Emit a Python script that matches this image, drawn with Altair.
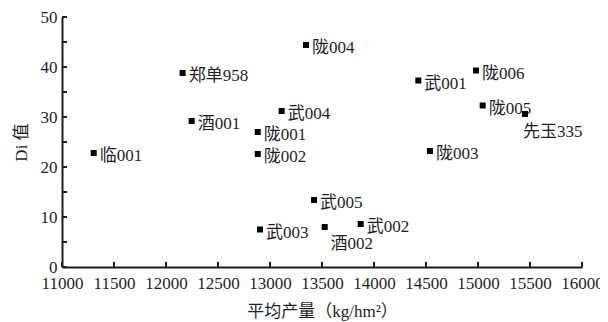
import altair as alt
import pandas as pd

names = ["临001", "郑单958", "酒001", "陇004", "武004", "陇001", "陇002", "武005",
         "武003", "酒002", "武002", "武001", "陇006", "陇005", "先玉335", "陇003"]
yield_kg = [11305, 12160, 12247, 13346, 13112, 12882, 12882, 13423,
            12904, 13526, 13872, 14426, 14981, 15045, 15452, 14538]
di_values = [22.8, 38.8, 29.2, 44.4, 31.2, 27.0, 22.6, 13.4,
             7.5, 8.0, 8.6, 37.3, 39.3, 32.3, 30.6, 23.2]

x_ticks = [11000, 11500, 12000, 12500, 13000, 13500, 14000, 14500, 15000, 15500, 16000]
y_ticks = [0, 5, 10, 15, 20, 25, 30, 35, 40, 45, 50]

below_names = ["酒002"]
below_right_names = ["先玉335"]

df = pd.DataFrame({"name": names, "x": yield_kg, "y": di_values})
xt = pd.DataFrame({"v": x_ticks})
yt = pd.DataFrame({"v": y_ticks})

FONT = "Liberation Serif, Noto Sans CJK SC"
INK = "#1e1e1e"
FS = 17

xs = alt.Scale(domain=[11000, 16000], nice=False, zero=False)
ys = alt.Scale(domain=[0, 50], nice=False)

base = alt.Chart(df)

points = base.mark_square(size=36, color="#000", opacity=1).encode(
    x=alt.X("x:Q", scale=xs,
            axis=alt.Axis(values=x_ticks, title="平均产量（kg/hm²）", grid=False,
                          format="d", ticks=False, labelPadding=8, domainColor=INK,
                          domainWidth=2, titlePadding=12, labelOverlap=False,
                          labelFlush=False)),
    y=alt.Y("y:Q", scale=ys,
            axis=alt.Axis(values=y_ticks, title="Di 值", grid=False, ticks=False,
                          format="d", labelPadding=5, domainColor=INK, domainWidth=2,
                          titlePadding=10, labelOverlap=False, labelFlush=False)),
)

right_labels = base.transform_filter(
    ~alt.FieldOneOfPredicate(field="name", oneOf=below_names + below_right_names)
).mark_text(align="left", baseline="middle", dx=6, dy=3, font=FONT, fontSize=FS,
            color=INK).encode(x="x:Q", y="y:Q", text="name:N")

below_labels = base.transform_filter(
    alt.FieldOneOfPredicate(field="name", oneOf=below_names)
).mark_text(align="center", baseline="middle", dx=27, dy=17, font=FONT, fontSize=FS,
            color=INK).encode(x="x:Q", y="y:Q", text="name:N")

below_right_labels = base.transform_filter(
    alt.FieldOneOfPredicate(field="name", oneOf=below_right_names)
).mark_text(align="left", baseline="middle", dx=-2, dy=18, font=FONT, fontSize=FS,
            color=INK).encode(x="x:Q", y="y:Q", text="name:N")

x_tick_rules = alt.Chart(xt).mark_rule(color=INK, strokeWidth=2).encode(
    x=alt.X("v:Q", scale=xs), y=alt.value(250), y2=alt.value(245))
y_tick_rules = alt.Chart(yt).mark_rule(color=INK, strokeWidth=2).encode(
    y=alt.Y("v:Q", scale=ys), x=alt.value(0), x2=alt.value(5))

chart = alt.layer(points, x_tick_rules, y_tick_rules, right_labels, below_labels,
                  below_right_labels).properties(
    width=520, height=250,
    autosize=alt.AutoSizeParams(type="none"),
    padding={"left": 54, "top": 9, "right": 18, "bottom": 58},
    background="white",
).configure_view(stroke=None).configure_axis(
    labelFont=FONT, titleFont=FONT, labelFontSize=FS, titleFontSize=FS,
    labelColor=INK, titleColor=INK, titleFontWeight="normal",
)

chart.save("out.html", embed_options={"renderer": "svg", "actions": False})
